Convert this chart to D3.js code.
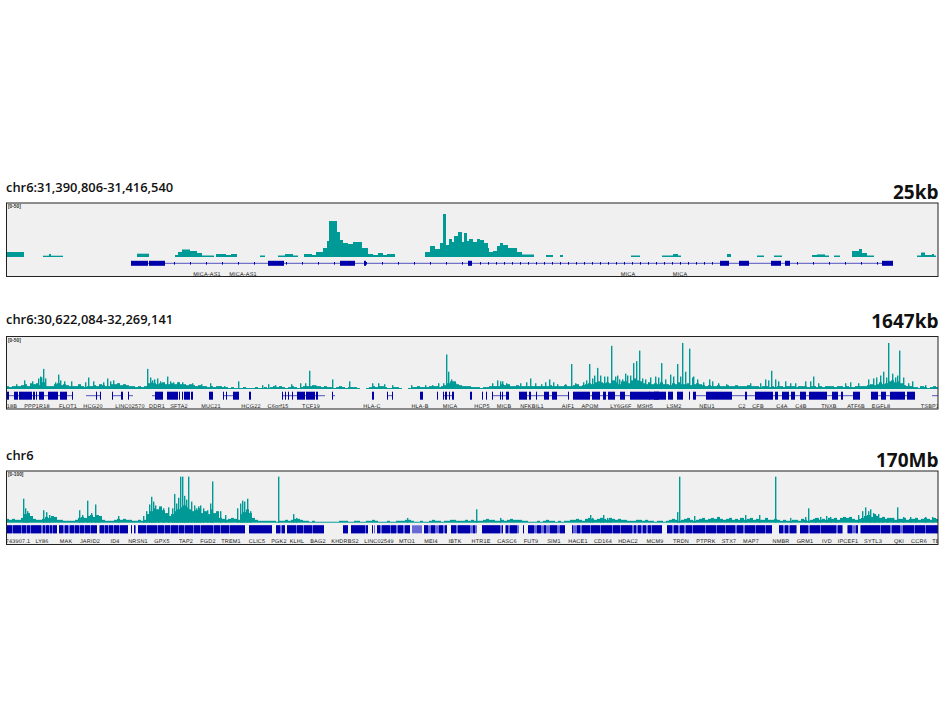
<!DOCTYPE html>
<html><head><meta charset="utf-8">
<script src="https://cdn.jsdelivr.net/npm/d3@7"></script>
<style>html,body{margin:0;background:#fff}svg{display:block}</style></head>
<body><svg id="c" width="944" height="708"></svg>
<script>
// ---------- titles
const titles = ["chr6:31,390,806-31,416,540","chr6:30,622,084-32,269,141","chr6"];
const spans = ["25kb","1647kb","170Mb"];
const ranges = ["[0-50]","[0-50]","[0-100]"];

// ---------- window 1 : coverage pieces [from bin, to bin, value]
const cover1 = [[7,24,5],[43,49,1.3],[49,51,3],[51,63,1.3],[137,149,3.3],[175,178,2],[178,182,5],[182,190,7.5],[190,197,6],[197,202,4],[202,214,1.5],[216,226,3],[226,231,2],[231,237,3],[260,265,1.5],[278,285,1.5],[285,293,3],[293,298,1.5],[304,312,3],[312,316,2],[316,320,5],[320,323,5],[323,327,9],[327,329,16],[329,337,36],[337,340,25],[340,343,17],[343,348,14],[348,353,13],[353,362,15],[362,368,9],[368,373,3],[373,378,2],[378,383,4],[383,387,2],[387,395,3],
[425,430,5],[430,435,11],[435,440,8],[440,443,14],[443,446,43],[446,449,12],[449,452,18],[452,454,15],[454,458,21],[458,462,25],[462,464,15],[464,467,24],[467,469,16],[469,473,18],[473,477,15],[477,480,18],[480,484,17],[484,488,14],[488,489,9],[489,493,5],[493,497,6],[497,500,11],[500,503,14],[503,508,12],[508,517,9],[517,522,5],[522,534,2.5],
[546,553,2],[560,563,2],[631,640,1.5],[662,673,1.5],[673,678,3],[678,681,1.5],[727,731,3],[757,764,1.5],[774,782,1.5],[812,817,2],[817,825,2.6],[825,829,1.5],[834,840,1.5],[852,859,6],[859,862,8],[862,867,4],[867,874,1.5],[917,921,1.5],[921,925,4.5],[925,932,2],[932,934,3],[934,936,1.5]];
const gene1Line = [131,893];
const gene1Exons = [[131,148],[149,165],[268,284],[340,355],[364,366],[468,472],[720,729],[739,749],[771,781],[785,790],[882,893]];
const gene1Labels = ["MICA-AS1","MICA-AS1","MICA","MICA"];
const gene1LabelBins = [207,243,628,680];

// ---------- window 2 : coverage per 3-bin step
const cover2 = [
3,2,3,3,3,4,5,3,6,5,6,4,7,3,3,3,5,6,4,5,
4,3,3,3,5,3,2,3,3,4,3,5,4,3,3,5,5,6,4,5,
4,3,3,2,3,2,3,6,7,6,5,6,7,5,5,6,5,7,5,5,
4,5,4,3,4,3,3,2,3,2,3,3,2,2,1,2,1,1,1,2,
1,1,1,2,1,1,2,1,2,3,2,3,2,1,2,3,2,1,2,3,
3,3,4,3,3,2,3,2,2,1,2,3,2,1,2,2,2,1,0,0,
1,2,3,2,3,3,2,1,1,2,2,1,0,0,1,2,2,3,2,2,
2,3,3,3,2,3,4,6,8,8,5,4,3,3,3,2,2,2,1,2,
2,3,3,3,3,5,4,5,3,3,4,3,3,3,3,3,3,3,3,3,
3,4,3,3,3,3,4,3,3,4,5,3,4,5,6,5,7,8,7,6,
7,6,9,7,5,8,8,6,9,11,9,8,6,5,7,5,6,5,7,5,
5,4,6,5,7,5,5,6,4,5,6,5,4,3,4,3,3,4,3,3,
4,3,3,4,3,3,3,4,3,3,3,2,3,3,2,3,2,3,3,2,
3,3,3,2,3,3,3,2,3,3,2,3,2,3,3,3,2,3,3,2,
3,2,2,3,3,3,3,4,5,4,5,7,5,6,8,9,7,8,6,4,
3,3,2,2,1,3,2,1,2,3,2];
const spikes2 = [[43,21],[41,12],[58,15],[88,12],[107,11],[147,21],[154,10],[167,13],[238,8],[309,19],[332,10],[349,8],[446,36],[448,18],[455,6],[497,9],[502,8],[530,11],[549,10],[571,26],[589,26],[597,22],[604,13],[611,45],[619,10],[622,10],[630,14],[633,27],[636,29],[639,40],[661,27],[677,26],[682,48],[689,42],[693,13],[709,10],[771,19],[785,8],[813,13],[873,11],[888,48],[892,16],[899,40],[912,8],
[16,5],[24,9],[32,8],[38,11],[40,13],[45,11],[55,7],[60,9],[64,8],[71,8],[85,7],[93,8],[103,7],[110,8],[113,9],[118,6],[150,12],[152,9],[157,11],[160,8],[170,8],[173,7],[178,7],[182,7],[192,6],[201,5],[210,6],[224,3],[262,4],[268,5],[275,4],[291,5],[300,6],[305,6],[315,4],[372,6],[378,6],[384,5],[392,4],[411,4],[425,4],[432,4],[438,6],[443,6],[451,10],[492,6],[500,8],[506,6],[520,6],[526,7],[535,6],[541,5],[545,7],[553,7],[557,5],[565,5],[575,6],[583,7],[586,9],[592,11],[594,14],[600,14],[607,13],[615,13],[617,14],[625,16],[627,14],[642,11],[645,10],[650,12],[655,13],[658,12],[665,10],[670,15],[673,13],[680,13],[685,18],[692,12],[697,10],[703,7],[712,8],[718,6],[726,5],[750,6],[760,6],[765,10],[768,9],[775,10],[778,8],[790,6],[795,6],[805,8],[810,8],[818,6],[845,6],[850,7],[858,6],[868,10],[876,12],[880,14],[883,18],[886,12],[895,12],[897,14],[903,12],[908,6],[920,3],[925,4]];
const gene2Lines = [[7,73],[86,101],[112,123],[128,133],[152,163],[223,239],[282,320],[320,325],[332,335],[387,393],[443,454],[492,509],[519,568],[573,657],[695,732],[732,860],[871,915],[932,938]];
const gene2Exons = [[7,9],[14,18],[19,32],[33,35],[36,37],[39,44],[48,58],[60,67],[72,73],[96,97],[100,101],[112,113],[121,123],[128,129],[155,163],[167,178],[179,180],[182,183],[184,190],[191,193],[209,213],[223,224],[226,227],[233,239],[249,251],[282,283],[285,286],[288,289],[292,293],[297,305],[306,315],[316,318],[332,333],[372,374],[387,388],[392,393],[420,423],[437,438],[443,444],[445,447],[449,450],[452,454],[470,472],[482,483],[486,487],[492,493],[500,501],[502,503],[506,509],[519,527],[529,531],[536,537],[544,549],[552,557],[568,569],[573,590],[592,600],[603,606],[608,615],[620,625],[630,650],[654,659],[649,666],[668,673],[677,683],[689,690],[693,696],[706,732],[745,747],[755,773],[775,778],[782,789],[791,795],[800,806],[809,827],[832,838],[841,843],[853,860],[871,878],[881,886],[890,905],[907,915]];
const gene2Labels = ["18B","PPP1R18","FLOT1","HCG20","LINC02570","DDR1","SFTA2","MUC21","HCG22","C6orf15","TCF19","HLA-C","HLA-B","MICA","HCP5","MICB","NFKBIL1","AIF1","APOM","LY6G6F","MSH5","LSM2","NEU1","C2","CFB","C4A","C4B","TNXB","ATF6B","EGFL8","TSBP1"];
const gene2LabelBins = [12,37,68,93,130,157,179,211,251,278,311,372,420,450,482,504,532,568,590,621,645,674,707,742,758,782,801,829,856,881,930];

// ---------- window 3 : coverage per 3-bin step
const cover3 = [
4,3,4,3,3,5,9,10,7,4,3,3,4,6,5,7,6,3,3,2,
2,2,2,3,5,6,5,7,8,6,8,7,3,2,2,2,3,4,3,4,
3,3,2,2,3,2,3,9,12,15,14,17,13,10,7,9,12,14,16,18,
16,14,12,13,15,10,12,9,14,10,12,5,4,3,4,5,4,3,9,11,
14,10,5,3,2,2,2,2,2,2,1,2,2,3,2,3,4,4,3,2,
2,1,2,1,1,1,1,1,1,1,1,2,2,2,1,1,2,2,1,1,
2,2,3,2,1,1,1,2,1,1,2,2,2,3,3,2,1,1,2,1,
1,2,3,2,2,1,2,2,3,3,2,2,2,3,2,3,2,2,2,3,
4,3,3,2,2,3,2,3,4,3,3,3,2,2,1,1,1,2,1,2,
3,2,2,1,2,1,2,2,3,3,4,3,2,4,5,4,3,4,5,4,
3,5,4,3,4,3,3,2,2,2,3,3,2,3,2,2,1,2,2,1,
2,3,4,3,2,3,4,5,3,2,3,4,5,3,4,5,4,6,4,3,
4,5,3,4,3,5,3,4,5,3,4,3,3,5,3,3,4,3,2,3,
2,2,3,3,2,4,3,2,3,4,5,3,4,3,5,4,5,3,5,6,
5,6,4,3,4,5,7,8,6,9,7,5,6,4,5,5,3,4,4,5,
3,4,4,5,3,4,5,4,3,5,4];
const spikes3 = [[23,25],[43,13],[79,13],[87,23],[95,19],[118,7],[149,19],[151,27],[174,30],[180,48],[182,48],[188,48],[194,18],[200,18],[212,43],[242,23],[247,25],[278,48],[293,9],[407,5],[476,14],[590,8],[603,8],[677,11],[679,48],[694,7],[745,8],[759,8],[775,48],[808,15],[865,16],[868,12],[873,10],[878,9],[897,16],
[25,15],[27,12],[46,11],[49,8],[82,8],[91,10],[98,7],[143,7],[146,12],[153,22],[155,18],[158,13],[163,15],[168,16],[172,15],[176,20],[178,26],[184,28],[186,24],[191,22],[196,15],[198,17],[203,15],[207,13],[210,20],[220,12],[225,8],[237,15],[240,20],[244,22],[250,12],[296,5],[500,5],[592,5],[600,5],[607,5],[610,5],[740,5],[790,5],[805,6],[815,5],[820,6],[826,7],[830,6],[835,5],[858,8],[862,12],[870,14],[875,8],[882,6],[887,5],[893,5],[903,6],[910,6],[915,5],[925,6],[932,6]];
const gene3Spans = [[7,57],[59,97],[99,128],[131,132],[134,136],[138,245],[249,272],[276,285],[287,324],[343,348],[351,368],[372,373],[374,375],[377,410],[412,422],[424,447],[451,477],[482,503],[505,519],[523,524],[528,565],[572,662],[667,772],[779,797],[800,843],[847,858],[860,938]];
const gene3Blocks = [[7,12],[13,21],[22,26],[27,30],[31,41],[43,45],[46,49],[50,52],[53,57],[59,63],[65,68],[70,74],[75,79],[80,84],[85,90],[91,97],[100,104],[105,108],[109,113],[114,119],[120,128],[131,132],[134,135],[138,146],[147,157],[158,164],[165,170],[171,178],[179,184],[185,193],[194,200],[201,213],[214,220],[221,229],[230,245],[249,272],[276,280],[282,285],[287,296],[297,303],[304,312],[313,324],
[343,348],[351,365],[366,368],[372,373],[377,380],[382,390],[391,396],[398,403],[405,410],[424,428],[431,435],[439,443],[445,447],[451,456],[458,470],[473,475],[482,500],[502,503],[506,508],[510,517],[523,524],[528,534],[537,541],[544,546],[550,557],[560,565],[572,573],[577,580],[582,590],[591,600],[601,612],[613,620],[621,632],[634,636],[638,641],[643,646],[648,651],[652,662],
[667,672],[674,678],[680,684],[686,692],[693,705],[706,716],[717,725],[726,735],[737,743],[745,755],[756,765],[766,772],[779,783],[785,788],[790,796],[800,808],[810,820],[821,836],[838,842],[848,852],[856,858],[861,880],[881,890],[892,900],[903,914],[915,925],[926,938]];
const gene3Labels = ["743907.1","LY86","MAK","JARID2","ID4","NRSN1","GPX5","TAP2","FGD2","TREM1","CLIC5","PGK2","KLHL","BAG2","KHDRBS2","LINC02549","MTO1","MEI4","IBTK","HTR1E","CASC6","FUT9","SIM1","HACE1","CD164","HDAC2","MCM9","TRDN","PTPRK","STX7","MAP7","NMBR","GRM1","IVD","IPCEF1","SYTL3","QKI","CCR6","TB"];
const gene3LabelBins = [18,42,66,90,115,138,162,186,208,231,257,279,297,318,345,379,407,431,455,481,507,531,554,578,603,628,655,681,706,729,751,781,805,827,848,873,899,919,936];

// ---------- drawing
const TEAL="#069a96", BLUE="#0000aa", LIGHT="#6a6ad6";
const svg=d3.select("#c");
const defs=svg.append("defs");
defs.append("filter").attr("id","soft").append("feGaussianBlur").attr("stdDeviation",0.35);
const x=d3.scaleLinear().domain([6,939]).range([6,939]);
const geo=[
 {top:203,bottom:276.5,base:257,gy:263.3,gh:5,max:50,px:50,titleY:192,spanY:199,labelOff:0.3},
 {top:336.5,bottom:409,base:389,gy:395.7,gh:8,max:50,px:48,titleY:324,spanY:328,labelOff:0.9},
 {top:471,bottom:544.5,base:522.7,gy:529.3,gh:8,max:100,px:48,titleY:460,spanY:467,labelOff:1.5}
];
const L=6.5,R=938;
const covers=[cover1.map(d=>({a:d[0],b:d[1],v:d[2]})),cover2.map((v,i)=>({a:6+3*i,b:9+3*i,v})),cover3.map((v,i)=>({a:6+3*i,b:9+3*i,v}))];
const spikes=[[],spikes2,spikes3];
const lines=[[gene1Line],gene2Lines,[]];
const under=[[],[],gene3Spans];
const exons=[gene1Exons,gene2Exons,gene3Blocks];
const labels=[gene1Labels,gene2Labels,gene3Labels];
const labelBins=[gene1LabelBins,gene2LabelBins,gene3LabelBins];

geo.forEach((g,i)=>{
  const k=i==2?2:1;
  const y=d3.scaleLinear().domain([0,g.max]).range([g.base,g.base-g.px]);
  const root=svg.append("g");
  defs.append("clipPath").attr("id","cp"+i).append("rect").attr("x",L).attr("y",g.top).attr("width",R-L).attr("height",g.bottom-g.top);
  root.append("rect").attr("x",L).attr("y",g.top).attr("width",R-L).attr("height",g.bottom-g.top).attr("fill","#f0f0f0");
  const plot=root.append("g").attr("clip-path",`url(#cp${i})`);
  const soft=plot.append("g").attr("filter","url(#soft)");
  soft.append("g").selectAll("rect").data(covers[i].filter(d=>d.v>0)).join("rect")
    .attr("x",d=>x(d.a)).attr("width",d=>x(d.b)-x(d.a)).attr("y",d=>y(d.v*k)).attr("height",d=>g.base-y(d.v*k)).attr("fill",TEAL);
  soft.append("g").selectAll("rect").data(spikes[i]).join("rect")
    .attr("x",d=>x(d[0])).attr("width",1.4).attr("y",d=>y(d[1]*k)).attr("height",d=>g.base-y(d[1]*k)).attr("fill",TEAL);
  soft.append("g").selectAll("line").data(lines[i]).join("line")
    .attr("x1",d=>x(d[0])).attr("x2",d=>x(d[1])).attr("y1",g.gy).attr("y2",g.gy).attr("stroke","#2a2ab8").attr("stroke-width",0.8);
  soft.append("g").selectAll("rect").data(under[i]).join("rect")
    .attr("x",d=>x(d[0])).attr("width",d=>x(d[1])-x(d[0])).attr("y",g.gy-g.gh/2).attr("height",g.gh).attr("fill",LIGHT);
  soft.append("g").selectAll("rect").data(exons[i]).join("rect")
    .attr("x",d=>x(d[0])).attr("width",d=>x(d[1])-x(d[0])).attr("y",g.gy-g.gh/2).attr("height",g.gh).attr("fill",BLUE);
  if(i==0){
    const marks=[...d3.range(174,468,16),...d3.range(480,720,8),...d3.range(797,882,16)];
    soft.append("g").selectAll("rect").data(marks).join("rect")
      .attr("x",d=>x(d)).attr("width",1).attr("y",g.gy-1.3).attr("height",2.6).attr("fill",BLUE);
  }
  plot.append("g").selectAll("text").data(labels[i]).join("text")
    .attr("x",(d,j)=>x(labelBins[i][j])).attr("y",g.bottom-g.labelOff)
    .attr("text-anchor","middle").attr("font-family","Liberation Sans").attr("font-size",5.5).attr("letter-spacing",0.2).attr("fill","#222").attr("text-rendering","geometricPrecision").text(d=>d);
  plot.append("text").attr("x",L+1.5).attr("y",g.top+5).attr("font-family","Liberation Sans").attr("font-size",4.8).attr("font-weight","bold").attr("fill","#333").text(ranges[i]);
  root.append("rect").attr("x",L).attr("y",g.top).attr("width",R-L).attr("height",g.bottom-g.top).attr("fill","none").attr("stroke","#222").attr("stroke-width",1);
  root.append("text").attr("x",6).attr("y",g.titleY).attr("font-family","Open Sans").attr("font-weight",600).attr("font-size",12.9).attr("fill","#111").text(titles[i]);
  root.append("text").attr("x",938.5).attr("y",g.spanY).attr("text-anchor","end").attr("font-family","Open Sans").attr("font-weight",700).attr("font-size",19).attr("fill","#111").text(spans[i]);
});
</script></body></html>
